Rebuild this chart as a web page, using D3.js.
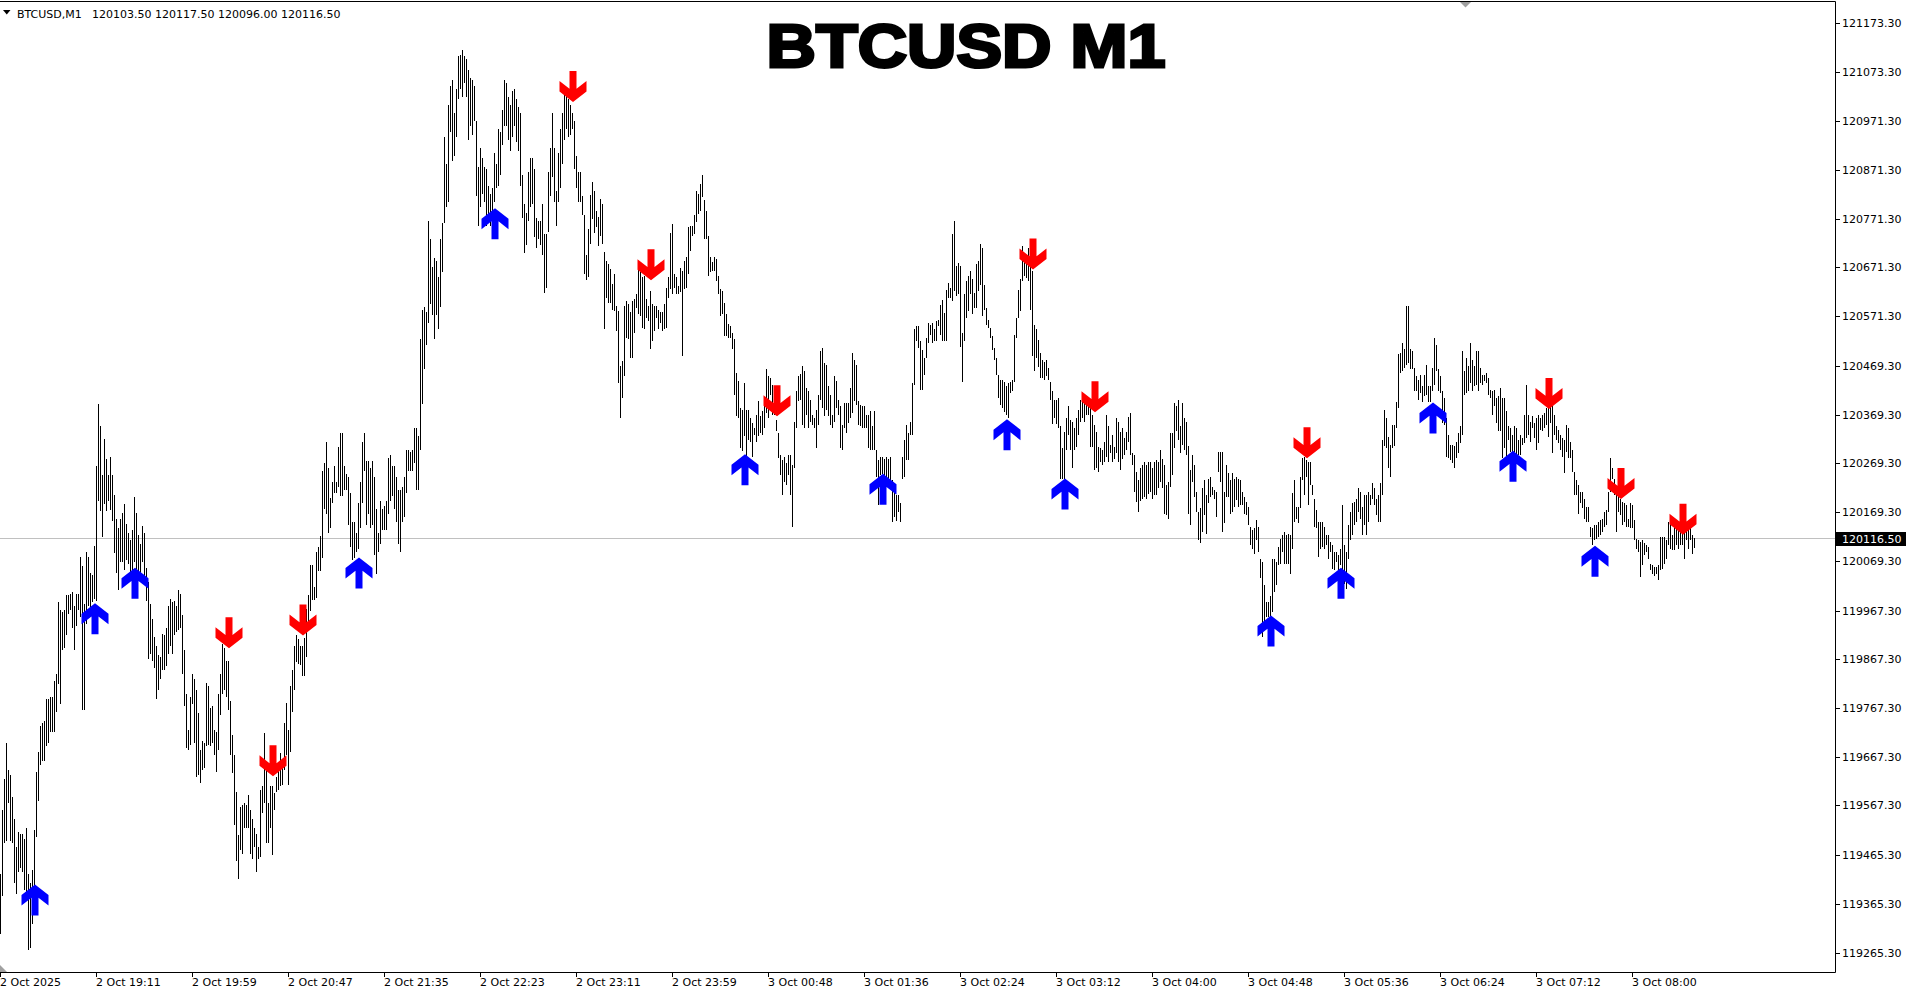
<!DOCTYPE html>
<html>
<head>
<meta charset="utf-8">
<script src="https://cdn.jsdelivr.net/npm/d3@7"></script>
<style>
  body { margin: 0; background: #fff; }
  svg { display: block; }
  text { font-family: "DejaVu Sans", sans-serif; font-size: 11px; fill: #000; }
</style>
</head>
<body>
<div class="first"></div>
<script>
// M1 bars, one high and one low per minute
const high = [
119428,119559,119622,119697,119641,119630,119585,119540,119484,119514,
119510,119510,119499,119522,119428,119410,119436,119518,119637,119678,
119731,119738,119742,119787,119787,119791,119791,119824,119839,119985,
119970,119966,119970,120000,120000,120003,120007,119977,120003,120003,
120078,120059,119981,120089,120078,120045,120041,120101,120265,120392,
120347,120246,120321,120280,120246,120284,120246,120205,120157,120138,
120157,120168,120186,120145,120127,120112,120134,120201,120168,120123,
120104,120142,120127,120056,120026,119981,119951,119914,119895,119876,
119873,119921,119918,119932,119977,119992,119985,119988,119977,120011,
120003,119959,119888,119798,119723,119791,119839,119828,119805,119757,
119682,119701,119697,119820,119813,119768,119772,119723,119720,119798,
119839,119899,119891,119865,119865,119783,119712,119671,119596,119507,
119566,119570,119574,119570,119589,119559,119540,119522,119510,119484,
119600,119608,119716,119641,119574,119608,119608,119593,119626,119641,
119675,119664,119738,119779,119723,119813,119847,119895,119918,119910,
119895,119895,119911,119972,120000,120061,120061,120016,120088,120099,
120122,120254,120271,120315,120260,120199,120232,120265,120232,120304,
120332,120332,120265,120249,120243,120210,120149,120149,120127,120188,
120232,120315,120332,120276,120276,120260,120276,120243,120177,120127,
120193,120177,120182,120193,120282,120287,120265,120265,120243,120216,
120216,120221,120243,120298,120298,120293,120298,120343,120343,120326,
120525,120586,120592,120580,120768,120730,120674,120691,120686,120652,
120730,120763,120940,120885,121006,121045,121056,120990,121039,121106,
121108,121119,121106,121100,121078,121062,121056,121045,120973,120879,
120918,120896,120879,120874,120840,120824,120835,120907,120885,120957,
120951,120995,121056,121050,121023,121006,121034,121039,121017,121001,
120990,120863,120802,120785,120868,120896,120896,120874,120774,120768,
120768,120802,120741,120741,120868,120918,120990,120918,120829,120907,
120957,120990,121034,121028,121017,121006,120990,120973,120901,120868,
120868,120818,120779,120697,120752,120820,120847,120830,120789,120775,
120813,120803,120703,120686,120679,120669,120638,120659,120593,120583,
120470,120480,120593,120604,120597,120580,120604,120607,120617,120669,
120662,120652,120655,120607,120593,120624,120597,120593,120593,120586,
120580,120580,120597,120631,120652,120744,120762,120659,120652,120635,
120672,120665,120686,120693,120755,120758,120758,120779,120830,120823,
120844,120861,120810,120789,120737,120693,120683,120693,120689,120655,
120628,120624,120600,120576,120556,120552,120538,120525,120456,120439,
120384,120380,120435,120380,120380,120363,120353,120343,120370,120398,
120367,120377,120387,120463,120449,120446,120432,120411,120360,120332,
120288,120277,120284,120271,120288,120288,120267,120356,120418,120449,
120453,120470,120459,120425,120418,120401,120370,120363,120380,120411,
120501,120507,120477,120473,120428,120411,120370,120449,120439,120401,
120387,120350,120394,120394,120394,120425,120497,120483,120473,120398,
120391,120387,120387,120370,120370,120377,120346,120377,120298,120277,
120284,120284,120280,120284,120280,120284,120236,120219,120205,120205,
120188,120284,120318,120349,120332,120356,120435,120545,120552,120552,
120521,120503,120486,120527,120558,120555,120558,120545,120562,120565,
120596,120606,120579,120627,120641,120630,120740,120768,120675,120682,
120675,120538,120617,120644,120655,120665,120648,120620,120679,120685,
120720,120713,120637,120589,120565,120548,120531,120507,120486,120452,
120442,120442,120438,120428,120435,120438,120442,120534,120569,120627,
120648,120716,120685,120692,120713,120675,120665,120555,120545,120524,
120497,120483,120479,120483,120466,120438,120418,120400,120400,120404,
120346,120301,120335,120363,120387,120359,120356,120342,120363,120380,
120400,120397,120400,120397,120390,120387,120370,120349,120335,120304,
120301,120297,120315,120370,120346,120308,120328,120304,120363,120356,
120335,120342,120322,120335,120366,120373,120291,120287,120253,120236,
120260,120267,120273,120267,120273,120273,120260,120273,120277,120273,
120297,120280,120267,120225,120232,120332,120332,120394,120387,120401,
120346,120394,120363,120356,120305,120257,120288,120267,120212,120171,
120178,120219,120236,120205,120239,120243,120222,120215,120212,120294,
120294,120294,120212,120267,120250,120236,120250,120239,120243,120239,
120236,120212,120202,120191,120181,120140,120133,120137,120154,120140,
120075,120068,120020,119985,119985,119999,120075,120075,120068,120099,
120116,120123,120130,120123,120126,120123,120209,120236,120181,120181,
120243,120281,120284,120277,120274,120274,120226,120198,120174,120150,
120150,120150,120140,120123,120123,120109,120102,120088,120088,120082,
120095,120185,120102,120088,120143,120171,120188,120191,120198,120219,
120212,120181,120205,120205,120212,120205,120229,120219,120198,120205,
120229,120318,120380,120363,120325,120308,120349,120349,120397,120494,
120497,120518,120504,120593,120593,120504,120500,120466,120449,120442,
120452,120428,120452,120473,120428,120428,120466,120528,120514,120463,
120449,120418,120404,120363,120329,120308,120308,120305,120315,120332,
120346,120500,120459,120487,120470,120518,120483,120470,120500,120500,
120466,120452,120452,120456,120445,120421,120418,120421,120404,120408,
120425,120404,120404,120377,120346,120342,120329,120346,120342,120318,
120329,120322,120370,120432,120370,120356,120367,120353,120363,120370,
120363,120370,120373,120384,120387,120387,120387,120370,120346,120339,
120329,120322,120318,120349,120342,120315,120298,120253,120236,120226,
120212,120212,120198,120181,120181,120140,120137,120143,120143,120150,
120154,120157,120171,120174,120212,120281,120260,120239,120215,120212,
120198,120191,120188,120185,120157,120188,120185,120154,120116,120112,
120109,120112,120106,120102,120099,120064,120061,120058,120058,120061,
120119,120119,120119,120112,120150,120150,120123,120143,120150,120143,
120147,120130,120140,120133,120137,120143,120123,120117.5
];
const low = [
119305,119383,119492,119496,119574,119496,119492,119410,119387,119432,
119439,119432,119395,119387,119271,119275,119324,119395,119503,119578,
119652,119660,119660,119690,119697,119720,119720,119720,119761,119817,
119776,119888,119891,119918,119962,119970,119932,119888,119936,119970,
119955,119764,119764,119940,119977,119962,119985,119992,119988,120194,
120172,120119,120186,120172,120194,120175,120153,120086,120045,120011,
120067,120067,120052,120071,120063,120037,120052,120067,120037,120030,
120030,120067,120033,119988,119869,119880,119865,119850,119787,119805,
119828,119847,119847,119854,119880,119895,119880,119918,119925,119929,
119932,119839,119772,119686,119682,119693,119776,119697,119626,119630,
119615,119641,119645,119690,119693,119690,119697,119671,119637,119682,
119753,119798,119805,119791,119764,119671,119634,119529,119454,119417,
119477,119469,119522,119522,119522,119469,119458,119484,119432,119458,
119462,119552,119574,119492,119492,119522,119466,119559,119596,119600,
119608,119611,119641,119671,119611,119678,119761,119805,119862,119858,
119856,119834,119834,119873,119933,119967,119989,119989,119994,120050,
120050,120077,120177,120166,120127,120138,120188,120210,120210,120221,
120204,120204,120216,120216,120144,120099,120072,120077,120088,120094,
120138,120188,120254,120144,120166,120138,120144,120083,120044,120088,
120105,120133,120133,120133,120166,120193,120204,120177,120149,120105,
120088,120149,120160,120210,120254,120254,120254,120271,120216,120216,
120298,120392,120464,120514,120558,120597,120575,120525,120575,120547,
120592,120663,120763,120796,120807,120951,120890,120901,120940,121017,
121039,121023,121050,121023,120934,120962,120945,120973,120818,120757,
120796,120824,120807,120757,120774,120757,120774,120807,120835,120840,
120863,120923,120962,120962,120934,120912,120940,120962,120929,120912,
120840,120774,120702,120719,120768,120796,120802,120735,120713,120730,
120719,120697,120619,120630,120746,120818,120857,120807,120757,120807,
120835,120885,120934,120957,120940,120945,120957,120874,120835,120807,
120807,120779,120658,120647,120652,120720,120772,120744,120755,120717,
120737,120720,120545,120610,120600,120600,120586,120583,120542,120435,
120363,120405,120449,120528,120525,120487,120487,120538,120590,120576,
120573,120549,120545,120569,120562,120504,120521,120542,120569,120545,
120559,120542,120545,120549,120610,120628,120617,120631,120617,120617,
120621,120490,120628,120631,120659,120707,120737,120741,120765,120782,
120789,120816,120731,120731,120655,120662,120665,120665,120645,120617,
120573,120576,120531,120531,120528,120528,120504,120411,120367,120363,
120302,120295,120326,120284,120319,120315,120284,120329,120315,120326,
120332,120329,120343,120374,120363,120411,120370,120370,120336,120281,
120247,120205,120233,120226,120247,120205,120140,120260,120343,120398,
120401,120350,120343,120370,120343,120356,120350,120343,120302,120350,
120401,120384,120367,120380,120367,120350,120343,120356,120384,120370,
120302,120298,120343,120332,120353,120363,120374,120398,120391,120350,
120346,120343,120343,120343,120302,120298,120298,120298,120243,120185,
120246,120249,120243,120239,120229,120236,120150,120160,120153,120170,
120150,120239,120243,120277,120277,120328,120328,120431,120521,120507,
120421,120421,120452,120486,120517,120534,120517,120521,120521,120552,
120534,120521,120521,120521,120610,120610,120603,120624,120613,120617,
120510,120438,120521,120569,120582,120617,120576,120589,120589,120624,
120637,120572,120586,120555,120548,120527,120503,120483,120452,120404,
120390,120383,120376,120370,120363,120414,120418,120438,120527,120569,
120582,120644,120655,120651,120644,120586,120490,120459,120486,120469,
120445,120445,120442,120449,120442,120400,120352,120363,120352,120342,
120239,120239,120239,120297,120328,120297,120260,120297,120304,120328,
120356,120363,120356,120370,120370,120304,120304,120256,120260,120253,
120273,120267,120273,120284,120273,120291,120273,120280,120291,120273,
120256,120280,120287,120297,120315,120287,120267,120212,120191,120170,
120194,120198,120201,120198,120208,120212,120198,120205,120205,120219,
120232,120219,120167,120164,120157,120222,120246,120301,120336,120318,
120291,120308,120298,120288,120167,120143,120233,120202,120171,120112,
120106,120130,120164,120126,120188,120202,120205,120198,120161,120253,
120233,120130,120147,120202,120202,120167,120171,120181,120195,120181,
120185,120185,120167,120164,120143,120102,120095,120085,120112,120088,
120034,119913,119937,119955,119955,119958,119965,120006,120020,120061,
120064,120088,120064,120064,120064,120044,120095,120150,120157,120147,
120178,120236,120205,120243,120185,120226,120205,120140,120137,120078,
120095,120099,120095,120102,120075,120088,120054,120051,120068,120051,
120061,120051,120023,120013,120075,120112,120123,120143,120150,120171,
120157,120123,120143,120123,120150,120185,120198,120185,120164,120150,
120150,120205,120305,120301,120260,120243,120301,120305,120342,120384,
120456,120459,120466,120473,120476,120463,120463,120418,120418,120401,
120415,120397,120408,120411,120397,120397,120418,120432,120459,120418,
120415,120353,120349,120284,120281,120277,120270,120260,120281,120291,
120312,120329,120411,120415,120418,120435,120418,120428,120432,120418,
120435,120432,120439,120435,120411,120404,120370,120387,120353,120336,
120336,120281,120301,120281,120318,120294,120284,120294,120281,120288,
120288,120308,120312,120322,120329,120315,120342,120322,120298,120312,
120339,120336,120342,120349,120325,120353,120291,120329,120318,120312,
120298,120284,120250,120294,120281,120281,120253,120205,120205,120167,
120188,120178,120157,120150,120150,120119,120102,120112,120116,120119,
120123,120130,120140,120143,120171,120212,120239,120205,120130,120171,
120164,120143,120150,120140,120140,120137,120137,120112,120095,120088,
120037,120061,120082,120088,120075,120051,120044,120040,120044,120030,
120051,120054,120064,120075,120102,120095,120092,120092,120102,120095,
120102,120102,120075,120112,120095,120112,120085,120096
];

// signal arrows: bar index and price of the arrow tip
const upBars = [17, 47, 67, 179, 247, 372, 441, 503, 532, 635, 670, 716, 756, 797];
const upPrices = [119406, 119983, 120056, 120077, 120794, 120289, 120249, 120361, 120239, 119958, 120056, 120395, 120296, 120101];
const downBars = [114, 136, 151, 286, 325, 388, 516, 547, 653, 774, 810, 841];
const downPrices = [119891, 119628, 119917, 121012, 120646, 120367, 120668, 120375, 120281, 120382, 120197, 120124];

const timeTickBars = [0, 48, 96, 144, 192, 240, 288, 336, 384, 432, 480, 528, 576, 624, 672, 720, 768, 816];
const timeLabels = ['2 Oct 2025', '2 Oct 19:11', '2 Oct 19:59', '2 Oct 20:47', '2 Oct 21:35', '2 Oct 22:23',
                    '2 Oct 23:11', '2 Oct 23:59', '3 Oct 00:48', '3 Oct 01:36', '3 Oct 02:24', '3 Oct 03:12',
                    '3 Oct 04:00', '3 Oct 04:48', '3 Oct 05:36', '3 Oct 06:24', '3 Oct 07:12', '3 Oct 08:00'];
const priceLabels = ['121173.30', '121073.30', '120971.30', '120871.30', '120771.30', '120671.30', '120571.30',
                     '120469.30', '120369.30', '120269.30', '120169.30', '120069.30', '119967.30', '119867.30',
                     '119767.30', '119667.30', '119567.30', '119465.30', '119365.30', '119265.30'];

const symbol = 'BTCUSD,M1';
const lastQuote = ['120103.50', '120117.50', '120096.00', '120116.50'];  // O H L C
const bid = 120116.50;

const w = 1914;
const h = 995;
const plotRight = 1835;
const plotBottom = 972;

var svg = d3.select('.first')
            .append('svg')
            .attr('width', w)
            .attr('height', h);

svg.append('rect')
    .attr('width', w)
    .attr('height', h)
    .attr('fill', '#fff');

var x = d3.scaleLinear()
          .domain([0, 847])
          .range([0.5, 1694.5]);

var y = d3.scaleLinear()
          .domain([119265.3, 121173.3])
          .range([953.1, 23.3]);

// current bid line
svg.append('line')
    .attr('x1', 0)
    .attr('x2', plotRight)
    .attr('y1', Math.round(y(bid)) + 0.5)
    .attr('y2', Math.round(y(bid)) + 0.5)
    .attr('stroke', '#c0c0c0')
    .attr('stroke-width', 1);

// bars
svg.append('g')
    .selectAll('line')
    .data(high)
    .enter()
    .append('line')
    .attr('x1', (d, i) => x(i))
    .attr('x2', (d, i) => x(i))
    .attr('y1', d => y(d))
    .attr('y2', (d, i) => y(low[i]))
    .attr('stroke', '#000')
    .attr('stroke-width', 1)
    .attr('shape-rendering', 'crispEdges');

// arrows
const upPath = 'M0,0L13.5,10.5L13.5,21L3.5,13.2L3.5,31L-3.5,31L-3.5,13.2L-13.5,21L-13.5,10.5Z';
const downPath = 'M0,0L13.5,-10.5L13.5,-21L3.5,-13.2L3.5,-31L-3.5,-31L-3.5,-13.2L-13.5,-21L-13.5,-10.5Z';

svg.append('g')
    .selectAll('path')
    .data(upBars)
    .enter()
    .append('path')
    .attr('d', upPath)
    .attr('transform', (d, i) => 'translate(' + (x(d) + 0.5) + ',' + y(upPrices[i]) + ')')
    .attr('fill', '#0000ff');

svg.append('g')
    .selectAll('path')
    .data(downBars)
    .enter()
    .append('path')
    .attr('d', downPath)
    .attr('transform', (d, i) => 'translate(' + (x(d) + 0.5) + ',' + y(downPrices[i]) + ')')
    .attr('fill', '#ff0000');

// frame
svg.append('path')
    .attr('d', 'M0,1.5H' + (plotRight + 0.5) + 'V' + (plotBottom + 0.5) + 'H0')
    .attr('fill', 'none')
    .attr('stroke', '#000')
    .attr('stroke-width', 1);

// chart shift markers
svg.append('path')
    .attr('d', 'M1460,2L1471,2L1465.5,7.5Z')
    .attr('fill', '#a0a0a0');
svg.append('path')
    .attr('d', 'M0,965L0,972L7,972Z')
    .attr('fill', '#a0a0a0');

// price axis
var yAxis = svg.append('g')
    .attr('transform', 'translate(' + (plotRight + 0.5) + ',0)')
    .call(d3.axisRight(y)
            .tickValues(priceLabels.map(Number))
            .tickFormat((d, i) => priceLabels[i])
            .tickSize(4)
            .offset(0));
yAxis.select('.domain').remove();
yAxis.selectAll('line').attr('stroke', '#000').attr('shape-rendering', 'crispEdges');
yAxis.selectAll('text')
    .attr('x', 6.5)
    .attr('font-family', '"DejaVu Sans", sans-serif')
    .attr('font-size', 11)
    .attr('fill', '#000');

// bid label
svg.append('rect')
    .attr('x', plotRight + 1)
    .attr('y', Math.round(y(bid)) - 6)
    .attr('width', 70)
    .attr('height', 14)
    .attr('fill', '#000');
svg.append('text')
    .attr('x', plotRight + 7)
    .attr('y', Math.round(y(bid)) + 1)
    .attr('dy', '0.35em')
    .style('fill', '#fff')
    .text(bid.toFixed(2));

// time axis
var xAxis = svg.append('g')
    .attr('transform', 'translate(0,' + (plotBottom + 0.5) + ')')
    .call(d3.axisBottom(x)
            .tickValues(timeTickBars)
            .tickFormat((d, i) => timeLabels[i])
            .tickSize(4)
            .offset(0));
xAxis.select('.domain').remove();
xAxis.selectAll('line').attr('stroke', '#000').attr('shape-rendering', 'crispEdges');
xAxis.selectAll('text')
    .attr('text-anchor', 'start')
    .attr('x', -0.5)
    .attr('y', 6)
    .attr('font-family', '"DejaVu Sans", sans-serif')
    .attr('font-size', 11)
    .attr('fill', '#000');

// header
svg.append('path')
    .attr('d', 'M3,10L10.5,10L6.75,14.5Z')
    .attr('fill', '#000');
svg.append('text')
    .attr('x', 17)
    .attr('y', 18)
    .text(symbol);
svg.append('text')
    .attr('x', 92)
    .attr('y', 18)
    .text(lastQuote.join(' '));

// title (heavy, wide face like Arial Black)
svg.append('text')
    .attr('x', 966)
    .attr('y', 67)
    .attr('text-anchor', 'middle')
    .attr('textLength', 399)
    .attr('lengthAdjust', 'spacingAndGlyphs')
    .style('font-family', '"Liberation Sans", Arial, sans-serif')
    .style('font-size', '61px')
    .style('font-weight', 'bold')
    .style('stroke', '#000')
    .style('stroke-width', 3)
    .style('stroke-linejoin', 'miter')
    .text('BTCUSD M1');
</script>
</body>
</html>
